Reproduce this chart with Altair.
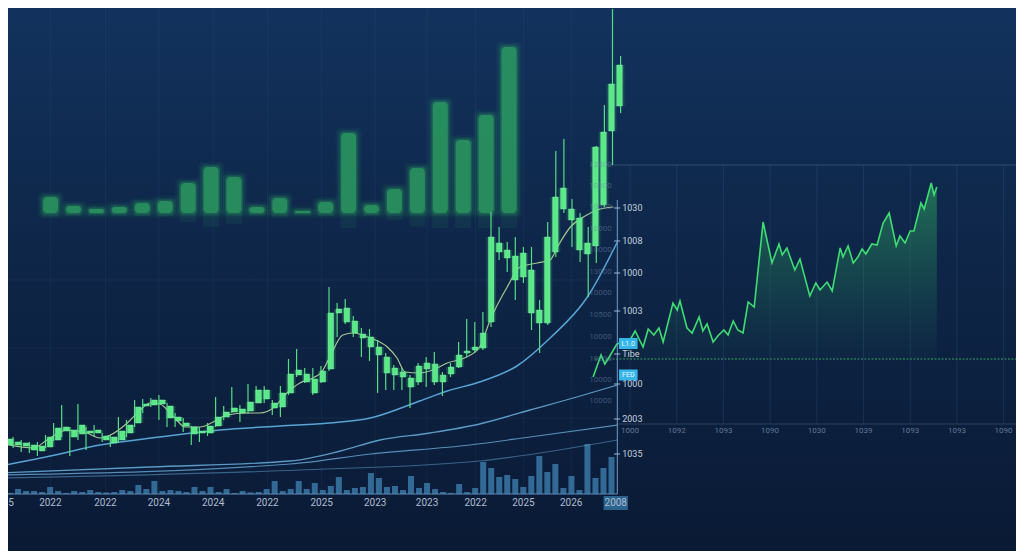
import altair as alt
import pandas as pd

# ---------------- data ----------------
candle_high = [67,63,60,58,58,65,77,95,73,96,73,75,67,65,83,80,100,101,102,105,97,87,82,74,73,77,103,94,113,95,116,114,114,100,114,141,151,132,132,134,213,197,201,184,172,171,160,147,135,132,125,137,143,148,128,137,158,181,178,188,288,273,258,263,253,253,200,278,349,361,301,287,273,354,395,491,444]
candle_close = [61,58,57,55,54,63,72,73,70,75,69,70,64,63,69,75,93,96,100,100,94,83,77,73,69,74,83,88,92,91,98,110,110,97,107,126,130,126,121,129,187,191,192,179,166,163,153,143,132,128,122,134,137,136,125,133,145,149,153,167,263,257,250,244,247,230,190,263,303,312,291,282,257,353,368,416,435]
candle_open = [55,55,54,50,49,53,60,69,63,66,67,67,60,57,60,67,77,94,95,96,82,79,74,66,67,67,74,83,88,87,89,97,101,92,93,107,125,118,107,118,131,187,178,167,162,153,145,127,125,123,113,118,131,118,118,126,133,147,150,152,178,248,242,220,223,187,177,177,248,291,280,250,246,254,295,369,394]
candle_low = [48,52,48,47,44,52,59,63,44,60,50,64,58,53,57,63,73,87,93,80,73,73,68,55,58,64,73,80,87,78,86,97,97,85,83,105,123,117,105,117,129,163,176,163,143,139,107,110,110,110,92,115,113,115,104,123,132,143,147,150,173,240,228,200,217,170,147,175,243,287,253,238,203,237,293,335,387]
volume = [1,5,3,3,2,7,3,1,3,2,4,2,1.5,2,4,3,9,5,13,3,4,3,2,7,3,7,2,5,1,3,1.5,2,5,13,3,5,13,5,11,4,8,17,4,6,7,21,16,7,8,4,18,6,11,5,2,1,10,2,6,32,26,17,19,15,7,18,38,22,30,6,18,4,50,16,26,37,0]

ma_fast_idx = [-0.6,3.5,5.2,7.7,10.1,11.7,13.0,15.1,16.7,17.9,19.1,20.4,21.2,22.2,24.1,25.7,27.4,29.9,31.5,33.1,34.8,36.4,38.0,39.1,40.1,41.7,43.0,45.1,47.2,48.4,49.4,51.2,52.8,54.6,57.0,58.6,59.9,62.0,63.6,65.7,67.3,68.2,69.8,71.4,73.1,75.1]
ma_fast_val = [57,52,60,70,67,62,65,77,90,97,96,87,80,73,73,78,85,87,87,92,107,117,122,128,143,165,167,162,153,142,128,127,130,137,143,153,180,213,233,237,240,253,273,283,290,293]
ma_a_idx = [-0.6,5.6,11.7,19.1,26.5,34.0,40.1,45.1,51.2,54.6,58.6,63.2,67.3,71.9,75.6]
ma_a_val = [34,44,55,63,70,74,77,82,99,109,118,134,162,203,258]
ma_b_idx = [-0.6,17.9,35.2,41.4,46.3,52.5,58.6,64.8,70.6,75.6]
ma_b_val = [27,33,39,49,60,67,76,90,103,115]
ma_c_idx = [-0.6,35.2,45.1,57.4,64.8,75.6]
ma_c_val = [25,36,46,55,63,75]
ma_d_idx = [-0.6,36.4,58.6,75.6]
ma_d_val = [22,30,39,60]

blur_vals = [16,7,4,6,10,12,30,46,36,6,15,2,11,80,8,24,45,111,73,98,166]

area_t = [-7.9,-6.2,-5.4,-4.7,-2.8,0,1.1,2.8,3.9,5.1,6.2,7.1,9.2,10.1,10.7,12.2,13.3,14.8,15.6,16.5,17.8,18.8,20.1,21.0,22.1,23.1,24.2,25.3,26.6,28.5,30.4,31.9,32.6,33.6,34.9,35.3,36.4,38.5,39.8,40.7,42.2,43.3,45.0,45.6,46.7,47.8,48.8,49.7,50.5,51.8,52.9,54.2,55.5,57.0,57.8,58.9,60.0,60.8,62.3,63.0,64.5,65.1,65.7]
area_v = [-18,4,-5,0,15,19,28,12,30,24,31,17,56,49,58,31,26,42,28,35,17,23,29,24,38,29,26,57,52,137,96,115,104,111,94,89,100,63,76,69,77,68,111,102,113,96,102,110,105,115,114,136,146,113,123,116,128,128,156,150,176,164,172]

bottom_label_idx = [0.4,5.6,12.4,19.0,25.7,32.4,39.1,45.7,52.1,58.1,64.0,69.9,75.4]
bottom_label_txt = ["5","2022","2022","2024","2024","2022","2025","2023","2023","2022","2025","2026","2008"]
bottom_label_align = ["left"] + ["center"] * 12
right_label_val = [292,259,227,189,146,116,81,46]
right_label_txt = ["1030","1008","1000","1003","Tibe","1000","2003","1035"]
faint_label_val = [335,314,293,271,250,228,207,185,163,141,120,99]
faint_label_txt = ["13300","10300","10300","10000","10000","13000","10000","10500","10000","10000","10000","10000"]
badge_val = [156.5,125]
badge_txt = ["L1.0","FED"]
panel_tick_t = [0,10,20,30,40,50,60,70,80]
panel_tick_txt = ["1000","1092","1093","1090","1030","1039","1093","1093","1090"]

# ---------------- frames (scale set-up) ----------------
W, H = 1008, 543
def dom_x(va, pa, vb, pb):
    s = (vb - va) / (pb - pa)
    return [va + (8 - pa) * s, va + (1016 - pa) * s]
def dom_y(va, pa, vb, pb):
    s = (vb - va) / (pb - pa)
    return [va + (551 - pa) * s, va + (8 - pa) * s]

FC = dict(x=dom_x(0, 5, 76, 620.6), y=dom_y(0, 500, 100, 400))
FV = dict(x=FC["x"], y=dom_y(0, 494, 50, 444))
FB = dict(x=dom_x(0, 46, 20, 509), y=dom_y(0, 213, 100, 113))
FA = dict(x=dom_x(0, 630, 10, 676.7), y=dom_y(0, 359, 100, 259))

def X(f, fr):
    return alt.X(f"{f}:Q", scale=alt.Scale(domain=fr["x"], nice=False, zero=False), axis=None)
def Y(f, fr):
    return alt.Y(f"{f}:Q", scale=alt.Scale(domain=fr["y"], nice=False, zero=False), axis=None)

FONT = "Roboto"

# ---------------- background ----------------
bg = alt.Chart(pd.DataFrame({"a": [0]})).mark_rect(
    fill=alt.LinearGradient(gradient="linear", x1=0, x2=0, y1=0, y2=1, stops=[
        alt.GradientStop(color="#12325d", offset=0),
        alt.GradientStop(color="#0e2648", offset=0.45),
        alt.GradientStop(color="#0a1a35", offset=1)])
).encode(x=alt.value(0), x2=alt.value(W), y=alt.value(0), y2=alt.value(H))

# ---------------- grid ----------------
vgrid = pd.DataFrame({"i": bottom_label_idx[1:-1], "y0": [6] * 11, "y1": [492] * 11})
left_vgrid = alt.Chart(vgrid).mark_rule(color="#6f93c0", opacity=0.08, strokeWidth=1).encode(
    x=X("i", FC), y=Y("y0", FC), y2="y1")
hgrid = pd.DataFrame({"p": [220, 152, 82], "i0": [-1] * 3, "i1": [75.6] * 3})
left_hgrid = alt.Chart(hgrid).mark_rule(color="#6f93c0", opacity=0.09).encode(
    x=X("i0", FC), x2="i1", y=Y("p", FC))

pg = pd.DataFrame({"t": panel_tick_t, "v0": [-65] * 9, "v1": [194] * 9, "txt": panel_tick_txt})
panel_vgrid = alt.Chart(pg).mark_rule(color="#6f93c0", opacity=0.14).encode(
    x=X("t", FA), y=Y("v0", FA), y2="v1")
pframe = pd.DataFrame({"v": [194, -65], "t0": [-8.6, -2.8], "t1": [85, 85], "o": [0.28, 0.25]})
panel_frame = alt.Chart(pframe).mark_rule(color="#7fa2cc", strokeWidth=1).encode(
    x=X("t0", FA), x2="t1", y=Y("v", FA), opacity=alt.Opacity("o:Q", scale=None))
panel_labels = alt.Chart(pg.assign(v=-72)).mark_text(
    font=FONT, fontSize=8, color="#7f95b3", opacity=0.75).encode(
    x=X("t", FA), y=Y("v", FA), text="txt:N")

# ---------------- blurred bars ----------------
bd = pd.DataFrame({"k": list(range(len(blur_vals))), "h": blur_vals})
def blur_layer(size, ext, op):
    return alt.Chart(bd).transform_calculate(top=f"datum.h+{ext}", base=f"-{ext}").mark_bar(
        size=size, color="#2eaa62", opacity=op, cornerRadius=min(size / 2, 4)).encode(
        x=X("k", FB), y=Y("top", FB), y2="base")
blur = [blur_layer(26, 5, 0.07), blur_layer(22, 3, 0.12), blur_layer(18, 1.5, 0.25),
        blur_layer(15, 0, 0.62)]
refl = alt.Chart(bd).transform_calculate(r="-min(datum.h*0.3, 15)", z="0").mark_bar(
    size=16, color="#2eaa62", opacity=0.1).encode(x=X("k", FB), y=Y("r", FB), y2="z")

# ---------------- volume ----------------
vd = pd.DataFrame({"i": list(range(len(volume))), "vol": volume, "z": 0})
vol = alt.Chart(vd).mark_bar(size=6, color="#3a78a6", opacity=0.85).encode(
    x=X("i", FV), y=Y("vol", FV), y2="z")

# ---------------- moving averages ----------------
def ma_layer(idx, val, color, width, op):
    d = pd.DataFrame({"i": idx, "v": val})
    return alt.Chart(d).mark_line(color=color, strokeWidth=width, opacity=op,
                                  interpolate="monotone").encode(x=X("i", FC), y=Y("v", FC))
mas = [ma_layer(ma_d_idx, ma_d_val, "#5d9cc8", 1.1, 0.55),
       ma_layer(ma_c_idx, ma_c_val, "#6aa9d6", 1.2, 0.8),
       ma_layer(ma_b_idx, ma_b_val, "#6ab0dd", 1.3, 0.85),
       ma_layer(ma_a_idx, ma_a_val, "#5fb2e6", 1.5, 0.9),
       ma_layer(ma_fast_idx, ma_fast_val, "#b5d99a", 1.2, 0.9)]

# ---------------- candles ----------------
cd = pd.DataFrame({"i": list(range(len(candle_high))), "high": candle_high, "low": candle_low,
                   "open": candle_open, "close": candle_close})
wick = alt.Chart(cd).mark_rule(color="#55dd84", strokeWidth=1.2).encode(
    x=X("i", FC), y=Y("low", FC), y2="high")
glow = alt.Chart(cd).mark_bar(size=10, color="#47e07c", opacity=0.18).encode(
    x=X("i", FC), y=Y("open", FC), y2="close")
body = alt.Chart(cd).mark_bar(size=5.5, color="#5ae889", stroke="#7af0a0", strokeWidth=0.5).encode(
    x=X("i", FC), y=Y("open", FC), y2="close")

# ---------------- green area panel ----------------
ad = pd.DataFrame({"t": area_t, "v": area_v, "z": 0})
area = alt.Chart(ad).transform_filter("datum.t >= -2.8").mark_area(
    fill=alt.LinearGradient(gradient="linear", x1=0, x2=0, y1=0, y2=1, stops=[
        alt.GradientStop(color="rgba(48,170,96,0.55)", offset=0),
        alt.GradientStop(color="rgba(40,140,90,0.25)", offset=0.6),
        alt.GradientStop(color="rgba(30,110,90,0.05)", offset=1)])
).encode(x=X("t", FA), y=Y("v", FA), y2="z")
area_line = alt.Chart(ad).mark_line(color="#3fdc72", strokeWidth=1.6).encode(
    x=X("t", FA), y=Y("v", FA))
baseline = alt.Chart(pd.DataFrame({"t0": [-7.5], "t1": [85], "v": [0]})).mark_rule(
    color="#3fb868", strokeWidth=1.2, strokeDash=[2, 1.5], opacity=0.85).encode(
    x=X("t0", FA), x2="t1", y=Y("v", FA))

# ---------------- axes & labels ----------------
bx = pd.DataFrame({"i0": [-1], "i1": [75.6], "v": [0]})
bottom_axis = alt.Chart(bx).mark_rule(color="#5e8cb5", strokeWidth=1.2).encode(
    x=X("i0", FV), x2="i1", y=Y("v", FV))
bl = pd.DataFrame({"i": bottom_label_idx, "txt": bottom_label_txt, "al": bottom_label_align, "v": -9})
badge_bottom = alt.Chart(pd.DataFrame({"i0": [73.9], "i1": [76.9], "v0": [-2], "v1": [-16]})).mark_rect(
    color="#2d6b97", opacity=0.9).encode(x=X("i0", FV), x2="i1", y=Y("v0", FV), y2="v1")
bottom_text = alt.layer(
    alt.Chart(bl).transform_filter("datum.al == 'center'").mark_text(
        font=FONT, fontSize=10, color="#aebdd0", align="center").encode(
        x=X("i", FV), y=Y("v", FV), text="txt:N"),
    alt.Chart(bl).transform_filter("datum.al == 'left'").mark_text(
        font=FONT, fontSize=10, color="#aebdd0", align="left").encode(
        x=X("i", FV), y=Y("v", FV), text="txt:N"),
)

raxis = alt.Chart(pd.DataFrame({"i": [75.6], "p0": [6], "p1": [300]})).mark_rule(
    color="#6d9cc8", strokeWidth=1.2, opacity=0.85).encode(x=X("i", FC), y=Y("p0", FC), y2="p1")
rl = pd.DataFrame({"p": right_label_val, "txt": right_label_txt, "i0": 75.2, "i1": 75.95, "il": 76.2})
rticks = alt.Chart(rl).mark_rule(color="#9fb8d6", strokeWidth=1).encode(
    x=X("i0", FC), x2="i1", y=Y("p", FC))
rtext = alt.Chart(rl).mark_text(font=FONT, fontSize=9, color="#c3d0df", align="left").encode(
    x=X("il", FC), y=Y("p", FC), text="txt:N")
bd2 = pd.DataFrame({"p": badge_val, "txt": badge_txt, "i0": 75.8, "i1": 78.1, "ic": 76.95})
badges = alt.Chart(bd2).transform_calculate(pt="datum.p+5.5", pb="datum.p-5.5").mark_rect(
    color="#35b6ea").encode(x=X("i0", FC), x2="i1", y=Y("pb", FC), y2="pt")
badge_text = alt.Chart(bd2).mark_text(font=FONT, fontSize=7, color="#e8f7ff").encode(
    x=X("ic", FC), y=Y("p", FC), text="txt:N")
fl = pd.DataFrame({"p": faint_label_val, "txt": faint_label_txt, "i": 74.9})
faint_text = alt.Chart(fl).mark_text(font=FONT, fontSize=8, color="#6f87a8", opacity=0.5,
                                     align="right").encode(x=X("i", FC), y=Y("p", FC), text="txt:N")

layers = ([bg, left_vgrid, left_hgrid, panel_vgrid, panel_frame, panel_labels] + blur + [refl, vol]
          + mas + [glow, wick, body, area, baseline, area_line, bottom_axis, badge_bottom,
                   bottom_text, raxis, rticks, faint_text, badges, badge_text, rtext])

chart = alt.layer(*layers).resolve_scale(x="independent", y="independent").properties(
    width=W, height=H, padding=0,
    autosize=alt.AutoSizeParams(type="none"),
).configure_view(stroke=None).configure(background="#0a1a35")

chart.save("out.html", embed_options={"renderer": "svg", "actions": False})
